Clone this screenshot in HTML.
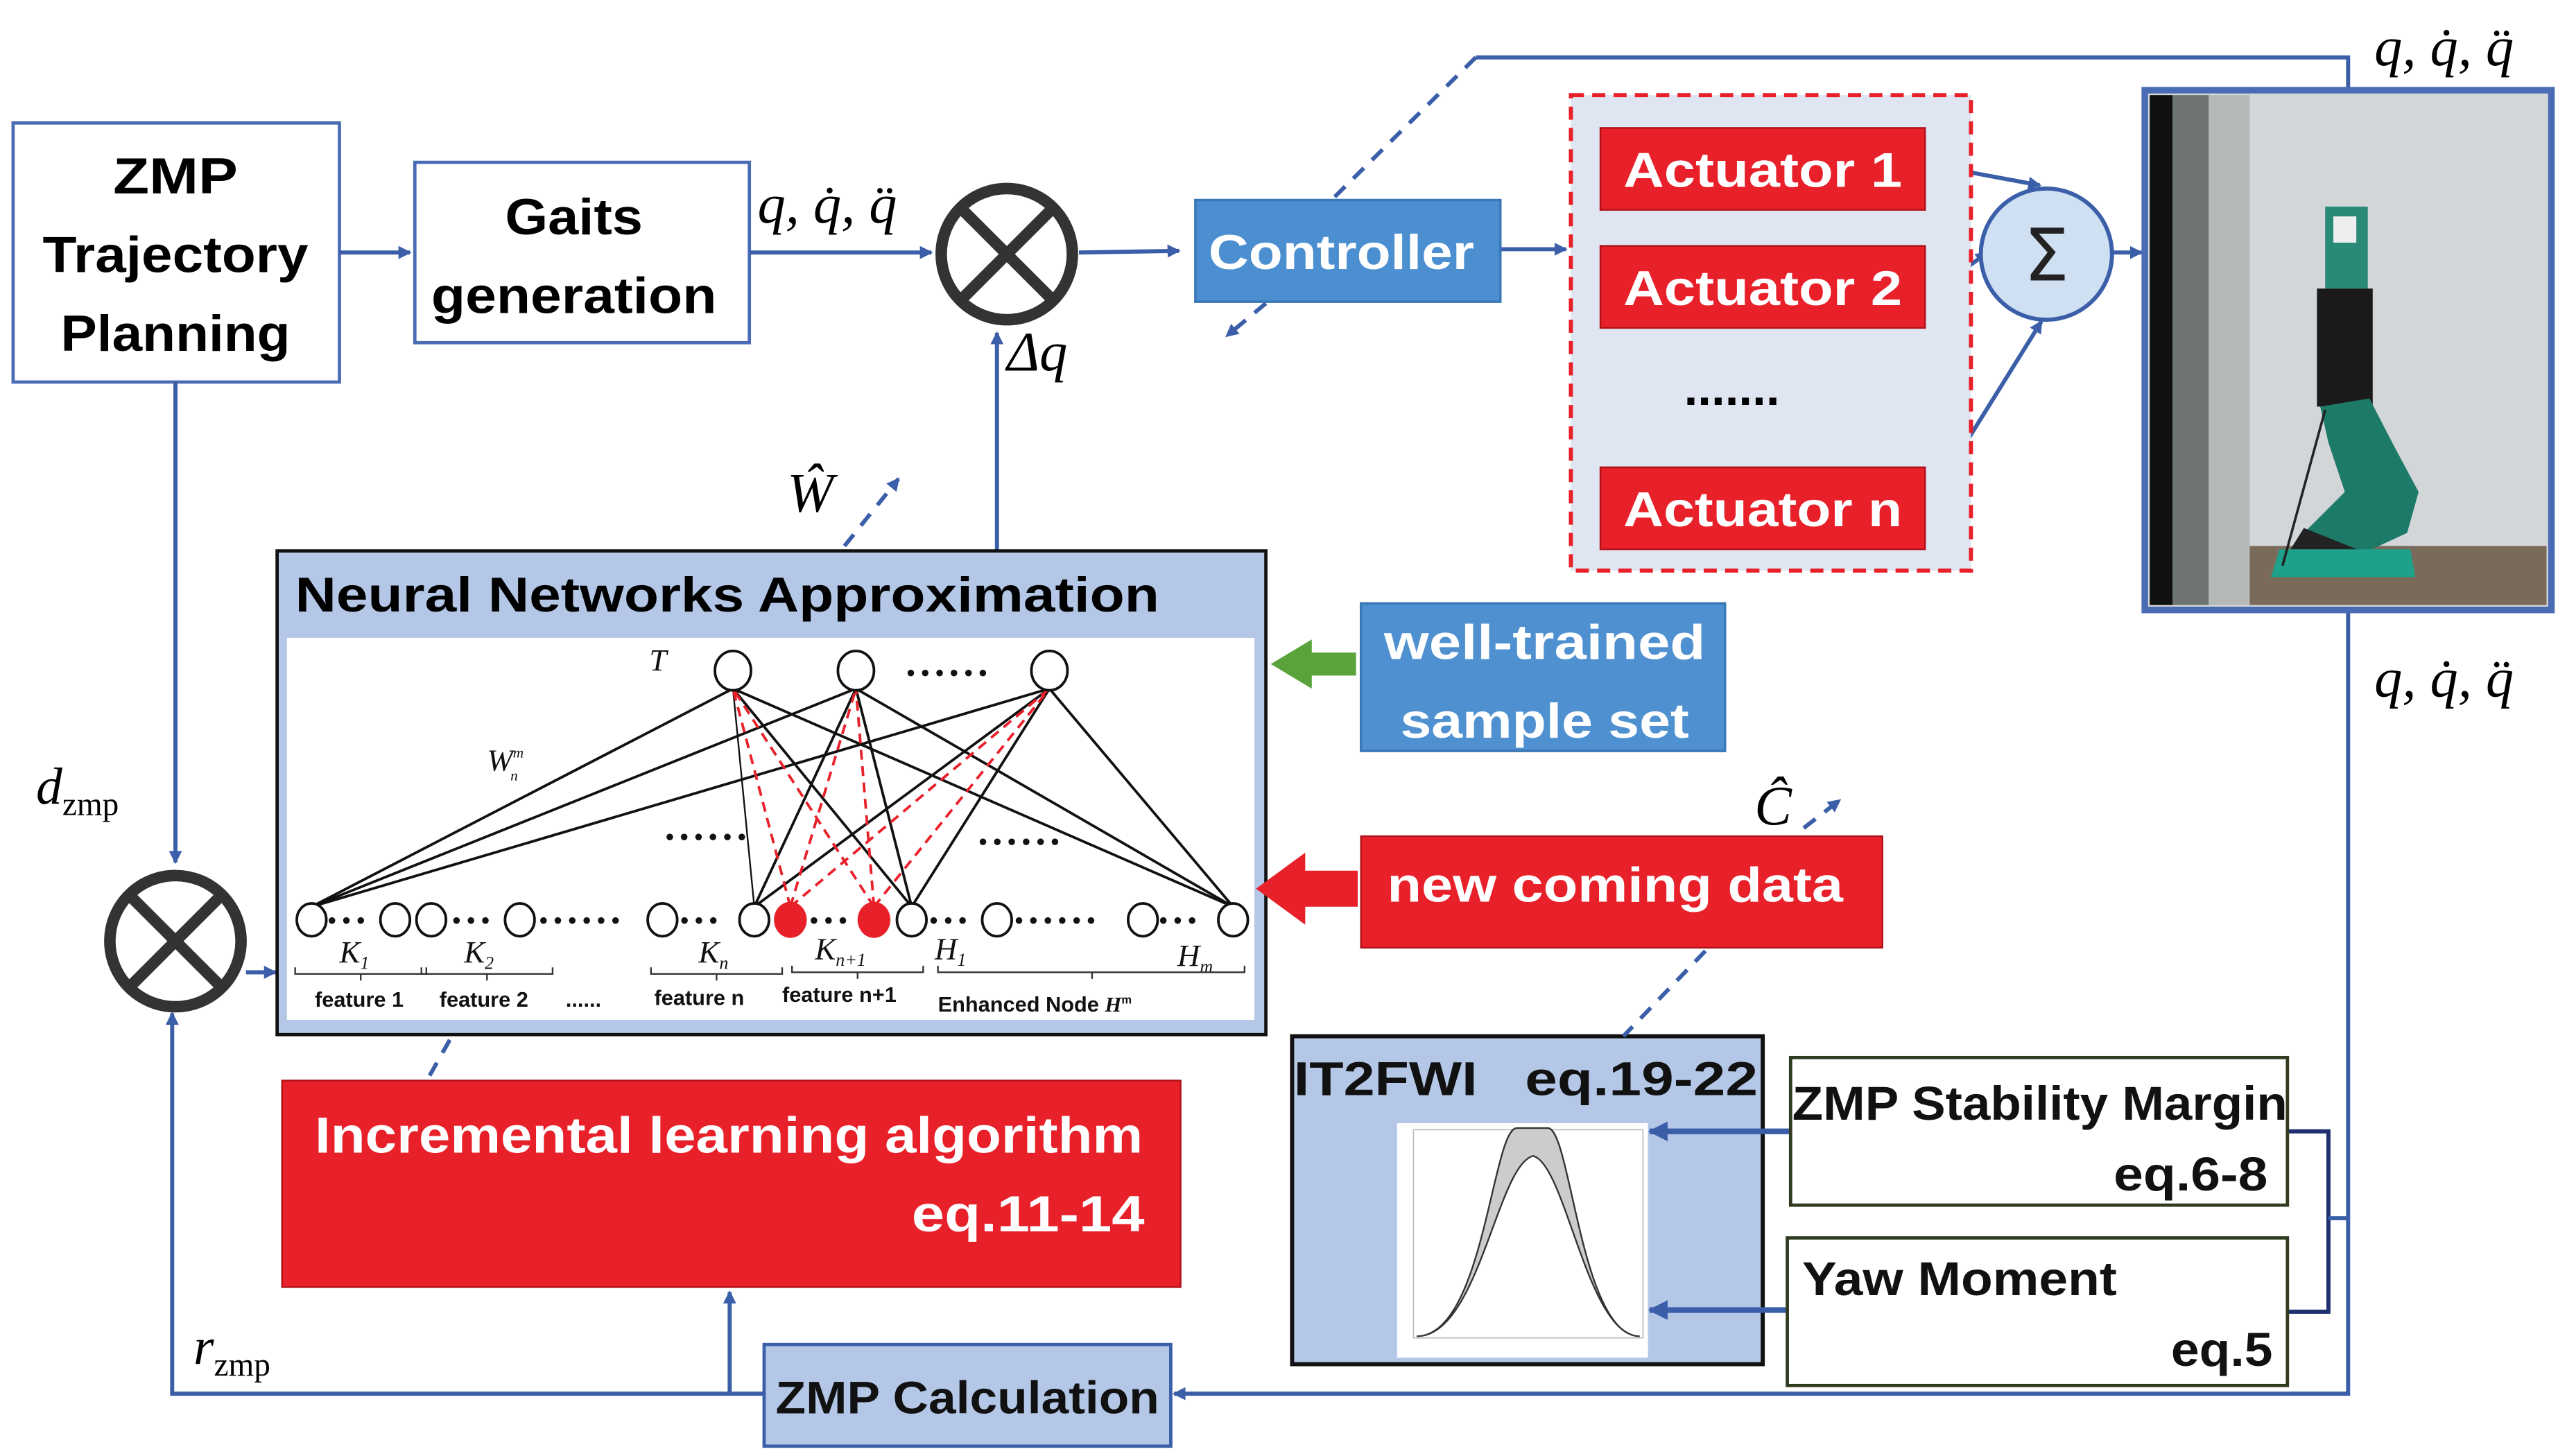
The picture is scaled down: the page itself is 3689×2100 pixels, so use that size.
<!DOCTYPE html>
<html><head><meta charset="utf-8"><style>
html,body{margin:0;padding:0;background:#fff;}
svg{display:block;}
.b{font-family:"Liberation Sans",sans-serif;font-weight:bold;}
.m{font-family:"Liberation Serif",serif;font-style:italic;}
</style></head><body>
<svg width="3689" height="2100" viewBox="0 0 1560 888" preserveAspectRatio="none" xmlns="http://www.w3.org/2000/svg">
<defs>
<marker id="a" markerWidth="8" markerHeight="8" refX="7" refY="4" orient="auto" markerUnits="userSpaceOnUse"><path d="M0,0 L8,4 L0,8 z" fill="#3b5ea8"/></marker>
<marker id="ad" markerWidth="12" markerHeight="12" refX="11" refY="6" orient="auto" markerUnits="userSpaceOnUse"><path d="M0,0 L12,6 L0,12 z" fill="#3b5ea8"/></marker>
</defs>
<rect width="1560" height="888" fill="#fff"/>

<!-- ZMP Trajectory Planning -->
<rect x="8" y="75" width="199" height="158" fill="#fff" stroke="#4a6cb4" stroke-width="2"/>
<text class="b" font-size="31" text-anchor="middle" x="107" y="118" textLength="76" lengthAdjust="spacingAndGlyphs">ZMP</text>
<text class="b" font-size="31" text-anchor="middle" x="107" y="166" textLength="162" lengthAdjust="spacingAndGlyphs">Trajectory</text>
<text class="b" font-size="31" text-anchor="middle" x="107" y="214" textLength="140" lengthAdjust="spacingAndGlyphs">Planning</text>

<!-- Gaits -->
<rect x="253" y="99" width="204" height="110" fill="#fff" stroke="#4a6cb4" stroke-width="2"/>
<text class="b" font-size="31" text-anchor="middle" x="350" y="143" textLength="84" lengthAdjust="spacingAndGlyphs">Gaits</text>
<text class="b" font-size="31" text-anchor="middle" x="350" y="191" textLength="174" lengthAdjust="spacingAndGlyphs">generation</text>

<!-- IT2FWI box (drawn before arrows) -->
<rect x="788" y="632" width="287" height="200" fill="#b4c7e7" stroke="#111" stroke-width="2.5"/>
<text class="b" font-size="29" fill="#111" x="789" y="668" textLength="112" lengthAdjust="spacingAndGlyphs">IT2FWI</text>
<text class="b" font-size="29" fill="#111" x="930" y="668" textLength="142" lengthAdjust="spacingAndGlyphs">eq.19-22</text>
<rect x="852" y="685" width="153" height="143" fill="#fff"/>
<rect x="862" y="689" width="140" height="127" fill="none" stroke="#bbb" stroke-width="0.7"/>
<path d="M864,815 C905,815 910,688 925,688 L944,688 C958,688 964,815 1000,815 C968,815 955,710 935,705 C913,710 902,815 864,815 Z" fill="#ccc" stroke="#333" stroke-width="1"/>

<g stroke="#3b5ea8" stroke-width="2.5" fill="none">
<line x1="207" y1="154" x2="250" y2="154" marker-end="url(#a)"/>
<line x1="457" y1="154" x2="568" y2="154" marker-end="url(#a)"/>
<line x1="658" y1="154" x2="719" y2="153" marker-end="url(#a)"/>
<line x1="915" y1="152" x2="955" y2="152" marker-end="url(#a)"/>
<line x1="1174" y1="100" x2="1244" y2="113" marker-end="url(#a)"/>
<line x1="1174" y1="182" x2="1212" y2="154" marker-end="url(#a)"/>
<line x1="1174" y1="310" x2="1245" y2="196" marker-end="url(#a)"/>
<line x1="1289" y1="154" x2="1306" y2="154" marker-end="url(#a)"/>
<line x1="608" y1="336" x2="608" y2="203" marker-end="url(#a)"/>
<line x1="107" y1="233" x2="107" y2="526" marker-end="url(#a)"/>
<line x1="150" y1="593" x2="168" y2="593" marker-end="url(#a)"/>
<polyline points="900,35 1432,35 1432,55"/>
<polyline points="1432,372 1432,850 716,850" marker-end="url(#a)"/>
<polyline points="466,850 105,850 105,618" marker-end="url(#a)"/>
<line x1="445" y1="850" x2="445" y2="788" marker-end="url(#a)"/>
<line x1="1092" y1="690" x2="1006" y2="690" stroke-width="3.5" marker-end="url(#ad)"/>
<line x1="1090" y1="799" x2="1006" y2="799" stroke-width="3.5" marker-end="url(#ad)"/>
</g>
<polyline points="1395,690 1420,690 1420,800 1395,800" fill="none" stroke="#1f2f70" stroke-width="2.5"/>
<line x1="1420" y1="743" x2="1432" y2="743" stroke="#3b5ea8" stroke-width="2.5"/>

<!-- dashed lines -->
<g stroke="#3b5ea8" stroke-width="2.5" fill="none" stroke-dasharray="9,7">
<line x1="900" y1="35" x2="812" y2="122"/>
<line x1="772" y1="185" x2="748" y2="205" marker-end="url(#a)"/>
<line x1="515" y1="333" x2="548" y2="292" marker-end="url(#a)"/>
<line x1="1100" y1="505" x2="1122" y2="488" marker-end="url(#a)"/>
<line x1="1040" y1="580" x2="990" y2="632"/>
<line x1="262" y1="656" x2="275" y2="633"/>
</g>

<!-- q labels -->
<text class="m" font-size="34" x="462" y="136">q, q̇, q̈</text>
<text class="m" font-size="34" x="1448" y="40">q, q̇, q̈</text>
<text class="m" font-size="34" x="1448" y="425">q, q̇, q̈</text>
<text class="m" font-size="34" x="614" y="226" font-style="normal">Δ<tspan font-style="italic">q</tspan></text>
<text class="m" font-size="34" x="480" y="312">Ŵ</text>
<text class="m" font-size="34" x="1070" y="503">Ĉ</text>
<text class="m" font-size="32" x="22" y="490">d<tspan font-size="20" font-style="normal" dy="7">zmp</tspan></text>
<text class="m" font-size="32" x="118" y="832">r<tspan font-size="20" font-style="normal" dy="7">zmp</tspan></text>

<!-- otimes -->
<g stroke="#333" stroke-width="7" fill="#fff">
<circle cx="614" cy="155" r="40"/>
<line x1="586" y1="127" x2="642" y2="183"/><line x1="642" y1="127" x2="586" y2="183"/>
<circle cx="107" cy="574" r="40"/>
<line x1="79" y1="546" x2="135" y2="602"/><line x1="135" y1="546" x2="79" y2="602"/>
</g>

<!-- Controller -->
<rect x="729" y="122" width="186" height="62" fill="#4b8fd0" stroke="#3a78b8" stroke-width="1.5"/>
<text class="b" font-size="30" fill="#fff" text-anchor="middle" x="818" y="164" textLength="162" lengthAdjust="spacingAndGlyphs">Controller</text>

<!-- actuator group -->
<rect x="958" y="58" width="244" height="290" fill="#dfe6f2" stroke="#e8202a" stroke-width="2.5" stroke-dasharray="8,5"/>
<g fill="#e8202a" stroke="#b01018" stroke-width="1">
<rect x="976" y="78" width="198" height="50"/><rect x="976" y="150" width="198" height="50"/><rect x="976" y="285" width="198" height="50"/>
</g>
<g class="b" font-size="30" fill="#fff" text-anchor="middle">
<text x="1075" y="114" textLength="170" lengthAdjust="spacingAndGlyphs">Actuator 1</text>
<text x="1075" y="186" textLength="170" lengthAdjust="spacingAndGlyphs">Actuator 2</text>
<text x="1075" y="321" textLength="170" lengthAdjust="spacingAndGlyphs">Actuator n</text>
</g>
<text class="b" font-size="30" x="1027" y="247">.......</text>
<circle cx="1248" cy="155" r="40" fill="#cfe0f3" stroke="#3b5ea8" stroke-width="2.5"/>
<text font-family="DejaVu Sans,sans-serif" font-size="44" text-anchor="middle" x="1248" y="171" fill="#222">Σ</text>

<!-- photo -->
<rect x="1308" y="55" width="248" height="317" fill="#d3d6d8" stroke="#4a6cb4" stroke-width="4"/>
<rect x="1311" y="58" width="14" height="311" fill="#111"/>
<rect x="1325" y="58" width="22" height="311" fill="#6e7472"/>
<rect x="1347" y="58" width="25" height="311" fill="#b5b9b8"/>
<rect x="1372" y="333" width="181" height="36" fill="#7a6a5a"/>
<rect x="1418" y="126" width="26" height="50" fill="#2a8a78"/>
<rect x="1423" y="132" width="14" height="16" fill="#eee"/>
<rect x="1413" y="176" width="34" height="72" fill="#1a1a1a"/>
<polygon points="1415,248 1445,243 1460,272 1475,300 1468,325 1440,338 1405,325 1430,300 1420,270" fill="#1e7a68"/>
<polygon points="1405,322 1440,336 1430,345 1395,338" fill="#222"/>
<polygon points="1390,335 1470,335 1473,352 1385,352" fill="#1fa08a"/>
<line x1="1418" y1="250" x2="1392" y2="345" stroke="#222" stroke-width="1.5"/>

<!-- NN box -->
<rect x="169" y="336" width="603" height="295" fill="#b4c7e7" stroke="#111" stroke-width="2"/>
<text class="b" font-size="30" x="180" y="373" textLength="527" lengthAdjust="spacingAndGlyphs">Neural Networks Approximation</text>
<rect x="175" y="389" width="590" height="233" fill="#fff"/>
<g stroke="#111" stroke-width="1.6" fill="none">
<line x1="190" y1="553" x2="447" y2="420"/><line x1="190" y1="553" x2="522" y2="420"/><line x1="190" y1="553" x2="640" y2="420"/>
<line x1="460" y1="553" x2="447" y2="420" stroke-width="1"/><line x1="460" y1="553" x2="522" y2="420"/><line x1="460" y1="553" x2="640" y2="420"/>
<line x1="556" y1="553" x2="447" y2="420"/><line x1="556" y1="553" x2="522" y2="420"/><line x1="556" y1="553" x2="640" y2="420"/>
<line x1="752" y1="553" x2="447" y2="420"/><line x1="752" y1="553" x2="522" y2="420"/><line x1="752" y1="553" x2="640" y2="420"/>
</g>
<g stroke="#e8202a" stroke-width="1.6" stroke-dasharray="6,4" fill="none">
<line x1="482" y1="553" x2="447" y2="420"/><line x1="482" y1="553" x2="522" y2="420"/><line x1="482" y1="553" x2="640" y2="420"/>
<line x1="533" y1="553" x2="447" y2="420"/><line x1="533" y1="553" x2="522" y2="420"/><line x1="533" y1="553" x2="640" y2="420"/>
</g>
<g stroke="#111" stroke-width="1.6" fill="#fff">
<ellipse cx="447" cy="409" rx="11" ry="12"/><ellipse cx="522" cy="409" rx="11" ry="12"/><ellipse cx="640" cy="409" rx="11" ry="12"/>
<ellipse cx="190" cy="561" rx="9" ry="10"/><ellipse cx="241" cy="561" rx="9" ry="10"/><ellipse cx="263" cy="561" rx="9" ry="10"/><ellipse cx="317" cy="561" rx="9" ry="10"/>
<ellipse cx="404" cy="561" rx="9" ry="10"/><ellipse cx="460" cy="561" rx="9" ry="10"/><ellipse cx="556" cy="561" rx="9" ry="10"/><ellipse cx="608" cy="561" rx="9" ry="10"/>
<ellipse cx="697" cy="561" rx="9" ry="10"/><ellipse cx="752" cy="561" rx="9" ry="10"/>
</g>
<ellipse cx="482" cy="561" rx="10" ry="11" fill="#e8202a"/><ellipse cx="533" cy="561" rx="10" ry="11" fill="#e8202a"/>
<g class="b" font-size="14" fill="#111">
<text x="200" y="566">• • •</text><text x="276" y="566">• • •</text><text x="329" y="566">• • • • • •</text><text x="415" y="566">• • •</text>
<text x="494" y="566">• • •</text><text x="567" y="566">• • •</text><text x="619" y="566">• • • • • •</text><text x="707" y="566">• • •</text>
<text x="553" y="415">• • • • • •</text><text x="406" y="515">• • • • • •</text><text x="597" y="518">• • • • • •</text>
</g>
<g class="m" font-size="19" fill="#111">
<text x="396" y="409">T</text><text x="297" y="470">W<tspan font-size="9" dy="-8">m</tspan><tspan font-size="9" dx="-8" dy="14">n</tspan></text>
<text x="207" y="587">K<tspan font-size="11" dy="4">1</tspan></text>
<text x="283" y="587">K<tspan font-size="11" dy="4">2</tspan></text>
<text x="426" y="587">K<tspan font-size="11" dy="4">n</tspan></text>
<text x="497" y="585">K<tspan font-size="11" dy="4">n+1</tspan></text>
<text x="570" y="585">H<tspan font-size="11" dy="4">1</tspan></text>
<text x="718" y="589">H<tspan font-size="11" dy="4">m</tspan></text>
</g>
<g stroke="#333" stroke-width="1" fill="none">
<path d="M180,590 v4 h80 v-4 M220,594 v4"/><path d="M257,590 v4 h80 v-4 M297,594 v4"/>
<path d="M397,590 v4 h80 v-4 M437,594 v4"/><path d="M483,589 v4 h80 v-4 M523,593 v4"/>
<path d="M572,589 v4 h187 v-4 M666,593 v4"/>
</g>
<g class="b" font-size="13" fill="#111">
<text x="192" y="614">feature 1</text><text x="268" y="614">feature 2</text><text x="345" y="614">......</text>
<text x="399" y="613">feature n</text><text x="477" y="611">feature n+1</text><text x="572" y="617">Enhanced Node <tspan class="m">H</tspan><tspan font-size="7" dy="-5">m</tspan></text>
</g>

<!-- well-trained -->
<rect x="830" y="368" width="222" height="90" fill="#4f91d0" stroke="#3a78b8" stroke-width="1.5"/>
<text class="b" font-size="30" fill="#fff" text-anchor="middle" x="942" y="402" textLength="196" lengthAdjust="spacingAndGlyphs">well-trained</text>
<text class="b" font-size="30" fill="#fff" text-anchor="middle" x="942" y="450" textLength="176" lengthAdjust="spacingAndGlyphs">sample set</text>
<polygon points="775,405 800,390 800,398 827,398 827,412 800,412 800,420" fill="#5aa33a"/>

<!-- new coming data -->
<rect x="830" y="510" width="318" height="68" fill="#e8202a" stroke="#b01018" stroke-width="1"/>
<text class="b" font-size="30" fill="#fff" x="846" y="550" textLength="278" lengthAdjust="spacingAndGlyphs">new coming data</text>
<polygon points="766,542 796,520 796,531 828,531 828,553 796,553 796,564" fill="#e8202a"/>

<!-- Incremental -->
<rect x="172" y="659" width="548" height="126" fill="#e8202a" stroke="#b01018" stroke-width="1"/>
<text class="b" font-size="31" fill="#fff" x="192" y="703" textLength="505" lengthAdjust="spacingAndGlyphs">Incremental learning algorithm</text>
<text class="b" font-size="31" fill="#fff" text-anchor="end" x="698" y="751" textLength="142" lengthAdjust="spacingAndGlyphs">eq.11-14</text>

<!-- ZMP Stability / Yaw -->
<rect x="1092" y="645" width="303" height="90" fill="#fff" stroke="#2f3a1f" stroke-width="2"/>
<text class="b" font-size="29" fill="#111" x="1093" y="683" textLength="302" lengthAdjust="spacingAndGlyphs">ZMP Stability Margin</text>
<text class="b" font-size="29" fill="#111" text-anchor="end" x="1383" y="726" textLength="94" lengthAdjust="spacingAndGlyphs">eq.6-8</text>
<rect x="1090" y="755" width="305" height="90" fill="#fff" stroke="#2f3a1f" stroke-width="2"/>
<text class="b" font-size="29" fill="#111" x="1099" y="790" textLength="192" lengthAdjust="spacingAndGlyphs">Yaw Moment</text>
<text class="b" font-size="29" fill="#111" text-anchor="end" x="1386" y="833" textLength="62" lengthAdjust="spacingAndGlyphs">eq.5</text>

<!-- ZMP Calculation -->
<rect x="466" y="820" width="248" height="62" fill="#b4c7e7" stroke="#3b5ea8" stroke-width="2"/>
<text class="b" font-size="28" fill="#111" text-anchor="middle" x="590" y="862" textLength="234" lengthAdjust="spacingAndGlyphs">ZMP Calculation</text>
</svg>
</body></html>
